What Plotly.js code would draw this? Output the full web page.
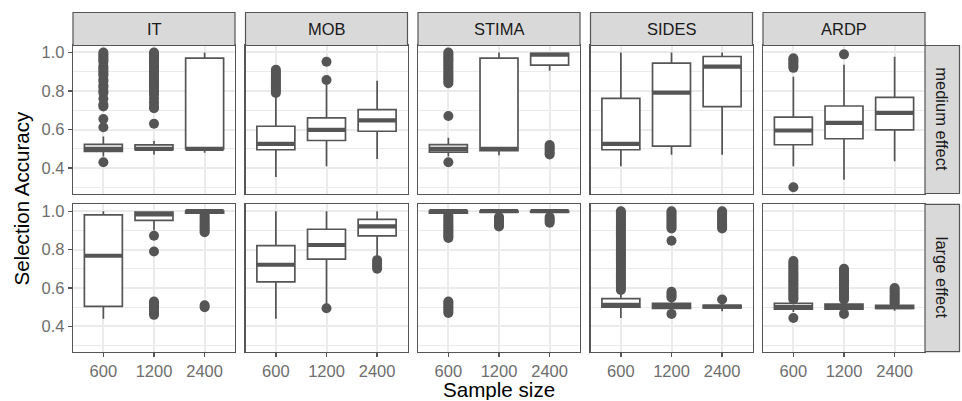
<!DOCTYPE html>
<html><head><meta charset="utf-8">
<script src="https://cdn.plot.ly/plotly-3.0.1.min.js"></script>
<style>html,body{margin:0;padding:0;background:#fff}</style>
</head><body><div id="chart" style="width:962px;height:401px"></div>
<script>
// ---------------- data ----------------
const sampleSizes = ['600', '1200', '2400'];
const methods = ['IT', 'MOB', 'STIMA', 'SIDES', 'ARDP'];
const effects = ['medium effect', 'large effect'];
const yTickVals = [0.4, 0.6, 0.8, 1.0];
const yTickText = ['0.4', '0.6', '0.8', '1.0'];
const xTitle = 'Sample size';
const yTitle = 'Selection Accuracy';

// medium effect, rows = methods (IT, MOB, STIMA, SIDES, ARDP), cols = 600/1200/2400
const mediumQ1     = [[0.487, 0.495, 0.500], [0.495, 0.543, 0.591], [0.483, 0.491, 0.934], [0.495, 0.514, 0.719], [0.521, 0.552, 0.598]];
const mediumMedian = [[0.500, 0.500, 0.500], [0.526, 0.598, 0.647], [0.500, 0.500, 0.988], [0.526, 0.791, 0.926], [0.595, 0.634, 0.686]];
const mediumQ3     = [[0.523, 0.520, 0.970], [0.617, 0.660, 0.703], [0.522, 0.971, 0.995], [0.762, 0.945, 0.979], [0.664, 0.722, 0.767]];
const mediumLow    = [[0.460, 0.470, 0.480], [0.353, 0.410, 0.447], [0.460, 0.466, 0.905], [0.409, 0.469, 0.469], [0.409, 0.340, 0.436]];
const mediumHigh   = [[0.564, 0.540, 1.000], [0.780, 0.840, 0.853], [0.557, 1.000, 1.000], [1.000, 1.000, 1.000], [0.874, 0.936, 0.978]];

// large effect
const largeQ1      = [[0.504, 0.952, 0.990], [0.632, 0.750, 0.872], [0.990, 0.995, 0.995], [0.500, 0.494, 0.496], [0.490, 0.490, 0.494]];
const largeMedian  = [[0.768, 0.983, 1.000], [0.721, 0.824, 0.921], [1.000, 1.000, 1.000], [0.512, 0.505, 0.503], [0.500, 0.500, 0.500]];
const largeQ3      = [[0.981, 0.995, 1.000], [0.821, 0.906, 0.957], [1.000, 1.000, 1.000], [0.545, 0.520, 0.510], [0.520, 0.516, 0.510]];
const largeLow     = [[0.440, 0.900, 0.990], [0.440, 0.508, 0.747], [0.990, 0.990, 0.985], [0.444, 0.480, 0.479], [0.475, 0.475, 0.482]];
const largeHigh    = [[1.000, 1.000, 1.000], [1.000, 1.000, 1.000], [1.000, 1.000, 1.000], [0.585, 0.540, 0.525], [0.535, 0.530, 0.515]];

// outliers, per method, per sample size
const mediumOutIT    = [[0.43, 0.612, 0.655, 0.72, 0.73, 0.76, 0.79, 0.80, 0.82, 0.83, 0.85, 0.86, 0.88, 0.89, 0.90, 0.91, 0.92, 0.93, 0.95, 0.96, 0.97, 0.98, 0.99, 1.0],
                        [0.63, 0.71, 0.72, 0.74, 0.76, 0.78, 0.79, 0.80, 0.81, 0.82, 0.83, 0.84, 0.85, 0.86, 0.87, 0.88, 0.89, 0.90, 0.91, 0.92, 0.93, 0.94, 0.95, 0.96, 0.97, 0.98, 0.99, 1.0],
                        []];
const mediumOutMOB   = [[0.79, 0.80, 0.81, 0.82, 0.83, 0.84, 0.85, 0.86, 0.87, 0.88, 0.89, 0.90, 0.91], [0.857, 0.952], []];
const mediumOutSTIMA = [[0.43, 0.67, 0.84, 0.85, 0.86, 0.87, 0.88, 0.89, 0.90, 0.91, 0.92, 0.93, 0.94, 0.95, 0.96, 0.97, 0.98, 0.99, 1.0], [], [0.47, 0.48, 0.49, 0.50, 0.51, 0.52]];
const mediumOutSIDES = [[], [], []];
const mediumOutARDP  = [[0.30, 0.92, 0.93, 0.94, 0.95, 0.96, 0.97], [0.99], []];

const largeOutIT     = [[], [0.46, 0.47, 0.48, 0.49, 0.50, 0.51, 0.52, 0.53, 0.79, 0.872], [0.50, 0.51, 0.89, 0.90, 0.91, 0.92, 0.93, 0.94, 0.95, 0.96, 0.97, 0.98]];
const largeOutMOB    = [[], [0.494], [0.70, 0.71, 0.72, 0.73, 0.745]];
const largeOutSTIMA  = [[0.47, 0.48, 0.49, 0.50, 0.51, 0.52, 0.53, 0.86, 0.87, 0.88, 0.89, 0.90, 0.91, 0.92, 0.93, 0.94, 0.95, 0.96, 0.97, 0.98],
                        [0.92, 0.93, 0.94, 0.95, 0.96, 0.97], [0.94, 0.95, 0.96, 0.97]];
const largeOutSIDES  = [[0.59, 0.60, 0.61, 0.62, 0.63, 0.64, 0.65, 0.66, 0.67, 0.68, 0.69, 0.70, 0.71, 0.72, 0.73, 0.74, 0.75, 0.76, 0.77, 0.78, 0.79, 0.80,
                         0.81, 0.82, 0.83, 0.84, 0.85, 0.86, 0.87, 0.88, 0.89, 0.90, 0.91, 0.92, 0.93, 0.94, 0.95, 0.96, 0.97, 0.98, 0.99, 1.0],
                        [0.465, 0.55, 0.56, 0.57, 0.58, 0.846, 0.91, 0.92, 0.93, 0.94, 0.95, 0.96, 0.97, 0.98, 0.99, 1.0],
                        [0.54, 0.91, 0.92, 0.93, 0.94, 0.95, 0.96, 0.97, 0.98, 0.99, 1.0]];
const largeOutARDP   = [[0.444, 0.54, 0.55, 0.56, 0.57, 0.58, 0.59, 0.60, 0.61, 0.62, 0.63, 0.64, 0.65, 0.66, 0.67, 0.68, 0.69, 0.70, 0.71, 0.72, 0.73, 0.74],
                        [0.465, 0.54, 0.55, 0.56, 0.57, 0.58, 0.59, 0.60, 0.61, 0.62, 0.63, 0.64, 0.65, 0.66, 0.67, 0.68, 0.69, 0.70],
                        [0.52, 0.53, 0.54, 0.55, 0.56, 0.57, 0.58, 0.59, 0.60]];

// ---------------- layout geometry (px) ----------------
const W = 962, H = 401;
const panelX = [[73, 235], [245.5, 407.5], [418, 580], [590.5, 752.5], [763, 925]];
const panelY = [[45.5, 193.5], [204.3, 351.7]];
const stripTop = [12.5, 45.5];
const stripRight = [925, 959.5];

const DARK = '#555555';
const FONT = 'Liberation Sans, Arial, Helvetica, sans-serif';

const stats = [
  {q1: mediumQ1, med: mediumMedian, q3: mediumQ3, lo: mediumLow, hi: mediumHigh,
   out: [mediumOutIT, mediumOutMOB, mediumOutSTIMA, mediumOutSIDES, mediumOutARDP]},
  {q1: largeQ1, med: largeMedian, q3: largeQ3, lo: largeLow, hi: largeHigh,
   out: [largeOutIT, largeOutMOB, largeOutSTIMA, largeOutSIDES, largeOutARDP]}
];

const px2x = v => v / W;
const px2y = v => 1 - v / H;

const layout = {
  width: W, height: H,
  margin: {l: 0, r: 0, t: 0, b: 0},
  paper_bgcolor: '#ffffff', plot_bgcolor: '#ffffff',
  showlegend: false,
  font: {family: FONT, color: '#4d4d4d'},
  shapes: [], annotations: []
};

// box width 0.75 category units -> px; 'line-ew' marker length is 1.4 * size
const unitPx = (panelX[0][1] - panelX[0][0]) / 3.2;
const medianMarkerSize = 0.75 * unitPx / 1.4;

const boxTraces = [], medTraces = [], outTraces = [];
for (let r = 0; r < 2; r++) {
  for (let c = 0; c < 5; c++) {
    const k = r * 5 + c + 1;
    const xa = k === 1 ? 'x' : 'x' + k;
    const ya = k === 1 ? 'y' : 'y' + k;
    const s = stats[r];
    boxTraces.push({
      type: 'box', x: sampleSizes,
      q1: s.q1[c], median: s.med[c], q3: s.q3[c],
      lowerfence: s.lo[c], upperfence: s.hi[c],
      width: 0.75, whiskerwidth: 0, boxpoints: false,
      fillcolor: '#ffffff', line: {color: DARK, width: 1.7},
      xaxis: xa, yaxis: ya, hoverinfo: 'skip'
    });
    medTraces.push({
      type: 'scatter', mode: 'markers', x: sampleSizes, y: s.med[c],
      marker: {symbol: 'line-ew', size: medianMarkerSize, color: DARK, line: {color: DARK, width: 4.2}},
      xaxis: xa, yaxis: ya, hoverinfo: 'skip', cliponaxis: false
    });
    const ox = [], oy = [];
    s.out[c].forEach((vals, j) => vals.forEach(v => { ox.push(sampleSizes[j]); oy.push(v); }));
    outTraces.push({
      type: 'scatter', mode: 'markers', x: ox, y: oy,
      marker: {size: 10, color: DARK, line: {width: 0}},
      xaxis: xa, yaxis: ya, hoverinfo: 'skip'
    });

    const bottom = r === 1, left = c === 0;
    layout['xaxis' + (k === 1 ? '' : k)] = {
      type: 'category', categoryorder: 'array', categoryarray: sampleSizes,
      range: [-0.6, 2.6], anchor: ya,
      domain: [px2x(panelX[c][0]), px2x(panelX[c][1])],
      showgrid: true, gridcolor: '#EBEBEB', gridwidth: 2, zeroline: false,
      showline: true, mirror: true, linecolor: DARK, linewidth: 1.2,
      ticks: bottom ? 'outside' : '', ticklen: 4, tickwidth: 1.4, tickcolor: DARK,
      showticklabels: bottom, tickfont: {size: 16.5, color: '#6e6e6e', family: FONT},
      fixedrange: true
    };
    layout['yaxis' + (k === 1 ? '' : k)] = {
      range: [0.268, 1.036], anchor: xa,
      domain: [px2y(panelY[r][1]), px2y(panelY[r][0])],
      tickmode: 'array', tickvals: yTickVals, ticktext: yTickText,
      showgrid: true, gridcolor: '#EBEBEB', gridwidth: 2, zeroline: false,
      minor: {tickmode: 'array', tickvals: [0.3, 0.5, 0.7, 0.9], showgrid: true, gridcolor: '#EBEBEB', gridwidth: 1, ticks: ''},
      showline: true, mirror: true, linecolor: DARK, linewidth: 1.2,
      ticks: left ? 'outside' : '', ticklen: 4, tickwidth: 1.4, tickcolor: DARK,
      showticklabels: left, tickfont: {size: 16.5, color: '#6e6e6e', family: FONT},
      fixedrange: true
    };

    if (r === 0) {
      layout.shapes.push({type: 'rect', xref: 'paper', yref: 'paper',
        x0: px2x(panelX[c][0]), x1: px2x(panelX[c][1]),
        y0: px2y(stripTop[1]), y1: px2y(stripTop[0]),
        fillcolor: '#D9D9D9', line: {color: DARK, width: 1.2}});
      layout.annotations.push({xref: 'paper', yref: 'paper',
        x: px2x((panelX[c][0] + panelX[c][1]) / 2), y: px2y((stripTop[0] + stripTop[1]) / 2),
        xanchor: 'center', yanchor: 'middle', showarrow: false, text: methods[c],
        font: {size: 16.5, color: '#1a1a1a', family: FONT}});
    }
  }
  layout.shapes.push({type: 'rect', xref: 'paper', yref: 'paper',
    x0: px2x(stripRight[0]), x1: px2x(stripRight[1]),
    y0: px2y(panelY[r][1]), y1: px2y(panelY[r][0]),
    fillcolor: '#D9D9D9', line: {color: DARK, width: 1.2}});
  layout.annotations.push({xref: 'paper', yref: 'paper',
    x: px2x((stripRight[0] + stripRight[1]) / 2), y: px2y((panelY[r][0] + panelY[r][1]) / 2),
    xanchor: 'center', yanchor: 'middle', showarrow: false, text: effects[r], textangle: 90,
    font: {size: 16.5, color: '#1a1a1a', family: FONT}});
}

layout.annotations.push({xref: 'paper', yref: 'paper',
  x: px2x((panelX[0][0] + panelX[4][1]) / 2), y: px2y(401),
  xanchor: 'center', yanchor: 'bottom', height: 21, valign: 'middle', borderpad: 0,
  showarrow: false, text: xTitle,
  font: {size: 20.6, color: '#000000', family: FONT}});
layout.annotations.push({xref: 'paper', yref: 'paper',
  x: px2x(22), y: px2y((panelY[0][0] + panelY[1][1]) / 2),
  xanchor: 'center', yanchor: 'middle', showarrow: false, text: yTitle, textangle: -90,
  font: {size: 20.6, color: '#000000', family: FONT}});

Plotly.newPlot('chart', boxTraces.concat(medTraces, outTraces), layout, {staticPlot: true, displayModeBar: false});
</script>
</body></html>
